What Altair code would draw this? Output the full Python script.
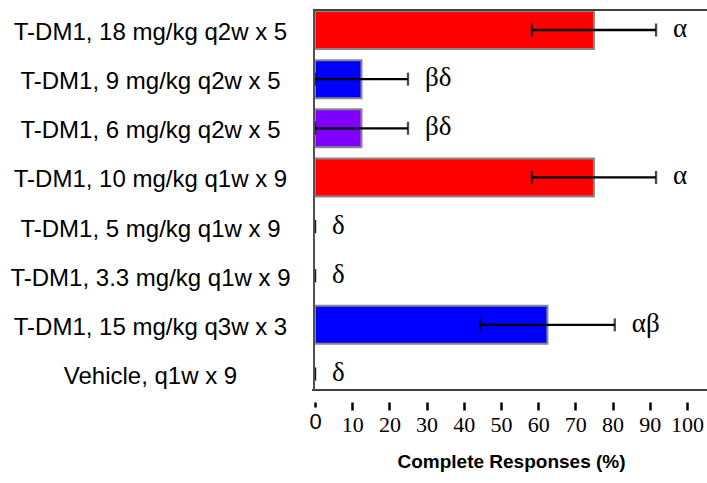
import altair as alt
import pandas as pd

groups = [
    "T-DM1, 18 mg/kg q2w x 5",
    "T-DM1, 9 mg/kg q2w x 5",
    "T-DM1, 6 mg/kg q2w x 5",
    "T-DM1, 10 mg/kg q1w x 9",
    "T-DM1, 5 mg/kg q1w x 9",
    "T-DM1, 3.3 mg/kg q1w x 9",
    "T-DM1, 15 mg/kg q3w x 3",
    "Vehicle, q1w x 9",
]
cr = [75, 12.5, 12.5, 75, 0, 0, 62.5, 0]
err = [16.7, 12.5, 12.5, 16.7, 0, 0, 18.1, 0]
colors = ["#FF0000", "#0000FF", "#7F00FF", "#FF0000", "#FF0000", "#FF0000", "#0000FF", "#FF0000"]
letters = ["α", "βδ", "βδ", "α", "δ", "δ", "αβ", "δ"]
ticks = [0, 10, 20, 30, 40, 50, 60, 70, 80, 90, 100]

df = pd.DataFrame({"group": groups, "cr": cr, "err": err, "color": colors, "letter": letters})
df["lo"] = df["cr"] - df["err"]
df["hi"] = df["cr"] + df["err"]

W, H = 392, 380

yaxis = alt.Axis(
    domain=False,
    ticks=False,
    labelPadding=165,
    labelAlign="center",
    labelLimit=400,
    labelFont="Liberation Sans",
    labelFontSize=24,
    labelColor="black",
    labelOffset=3,
)
yscale = alt.Scale(range=[1, 383], paddingInner=0.2267, paddingOuter=0)
yenc = alt.Y("group:N", sort=groups, title=None, scale=yscale, axis=yaxis)

xscale = alt.Scale(domain=[0, 105.4], nice=False, zero=True)
xaxis = alt.Axis(
    values=ticks,
    tickCount=11,
    domain=False,
    offset=12,
    tickSize=alt.condition("datum.value == 0", alt.value(5), alt.value(8)),
    tickWidth=2.5,
    tickColor="black",
    labelFont=alt.condition("datum.value == 0", alt.value("Liberation Sans"), alt.value("Liberation Serif")),
    labelFontSize=22,
    labelColor="black",
    labelPadding=4,
    labelOverlap=False,
    labelFlush=False,
    grid=False,
    title="Complete Responses (%)",
    titleFont="Liberation Sans",
    titleFontSize=19,
    titleFontWeight="bold",
    titleColor="black",
    titlePadding=17,
)
XT = "Complete Responses (%)"

base = alt.Chart(df)

bars = base.transform_filter("datum.cr > 0").mark_bar(stroke="#888888", strokeWidth=2).encode(
    x=alt.X("cr:Q", scale=xscale, axis=xaxis, title=XT),
    y=yenc,
    color=alt.Color("color:N", scale=None),
)

rules = base.mark_rule(color="black", strokeWidth=2.3).encode(
    x=alt.X("lo:Q", scale=xscale, axis=xaxis, title=XT),
    x2="hi:Q",
    y=yenc,
)

caps_lo = base.mark_tick(color="black", thickness=2.3, size=13, orient="vertical").encode(
    x=alt.X("lo:Q", scale=xscale, axis=xaxis, title=XT),
    y=yenc,
)
caps_hi = base.mark_tick(color="black", thickness=2.3, size=13, orient="vertical").encode(
    x=alt.X("hi:Q", scale=xscale, axis=xaxis, title=XT),
    y=yenc,
)

labels = base.mark_text(
    align="left", baseline="middle", dx=17, dy=-1, font="Liberation Serif", fontSize=27, color="black"
).encode(
    x=alt.X("hi:Q", scale=xscale, axis=xaxis, title=XT),
    y=yenc,
    text="letter:N",
)

frame_df = pd.DataFrame({"k": [0]})
frame = alt.Chart(frame_df)
top_line = frame.mark_rule(color="#404040", strokeWidth=2).encode(
    x=alt.value(-2), x2=alt.value(W), y=alt.value(0)
)
bottom_line = frame.mark_rule(color="#404040", strokeWidth=2).encode(
    x=alt.value(-3), x2=alt.value(W), y=alt.value(H)
)
left_line = frame.mark_rule(color="#505050", strokeWidth=2).encode(
    x=alt.value(-1), y=alt.value(0), y2=alt.value(H)
)

chart = (
    alt.layer(bars, rules, caps_lo, caps_hi, labels, top_line, bottom_line, left_line)
    .properties(
        width=W,
        height=H,
        autosize=alt.AutoSizeParams(type="none"),
        padding={"left": 315, "top": 10, "right": 0, "bottom": 93},
        background="white",
    )
    .configure_view(stroke=None)
)

chart.save("out.html", embed_options={"renderer": "svg", "actions": False})
